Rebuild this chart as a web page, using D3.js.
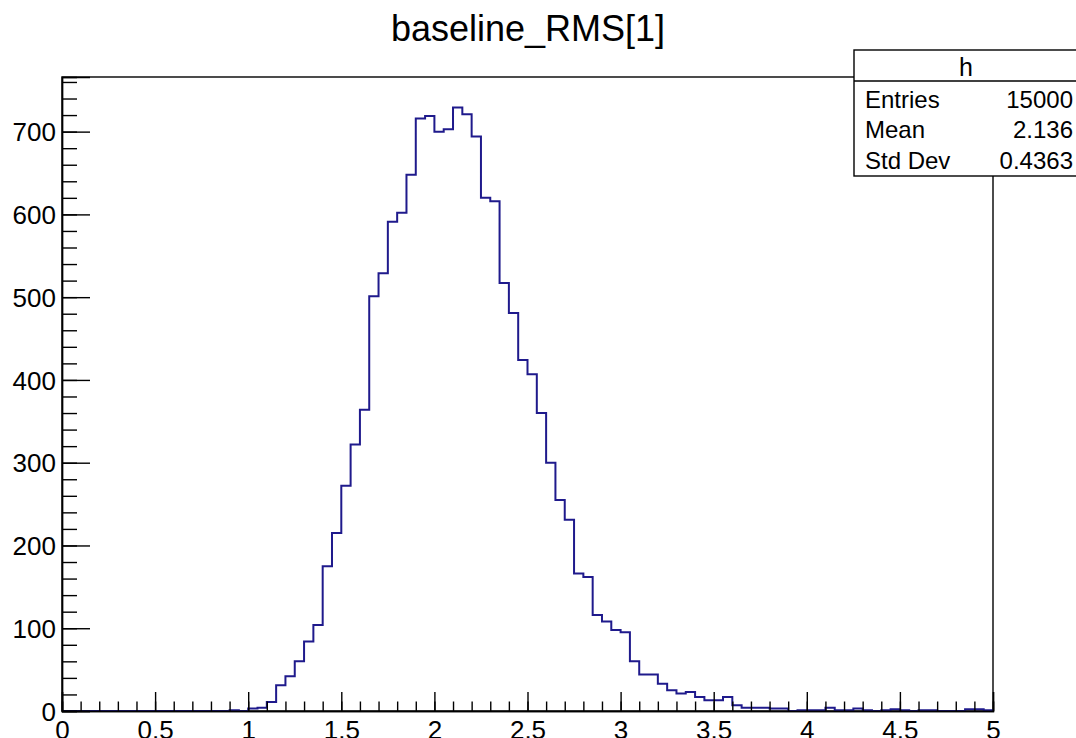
<!DOCTYPE html>
<html>
<head>
<meta charset="utf-8">
<script src="https://cdn.jsdelivr.net/npm/d3@7/dist/d3.min.js"></script>
<style>
  html, body { margin: 0; padding: 0; background: #fff; }
  svg { display: block; }
  text { font-family: "Liberation Sans", Arial, Helvetica, sans-serif; fill: #000; }
</style>
</head>
<body>
<svg id="chart" width="1076" height="738"></svg>
<script>
// ---- data ----
const title = "baseline_RMS[1]";
const binLow = 0, binHigh = 5, binWidth = 0.05;
const counts = [
  0,0,0,0,0,0,0,0,0,0,          // 0.00-0.50
  0,0,0,0,0,0,0,0,1,0,          // 0.50-1.00
  3,4,11,31,42,60,84,104,175,215, // 1.00-1.50
  272,322,364,501,529,591,602,648,716,719, // 1.50-2.00
  700,703,729,721,694,620,616,517,481,424, // 2.00-2.50
  407,360,300,255,231,166,162,116,108,98,  // 2.50-3.00
  95,60,44,44,33,25,21,23,17,13,           // 3.00-3.50
  13,17,7,4,4,4,3,3,0,1,                   // 3.50-4.00
  1,1,4,1,1,3,1,0,1,2,                     // 4.00-4.50
  1,0,1,1,0,0,0,2,2,1                      // 4.50-5.00
];
const xMajorTicks = [0,0.5,1,1.5,2,2.5,3,3.5,4,4.5,5];
const xTickLabels = ["0","0.5","1","1.5","2","2.5","3","3.5","4","4.5","5"];
const yMajorTicks = [0,100,200,300,400,500,600,700];
const yTickLabels = ["0","100","200","300","400","500","600","700"];
const yMax = 766;
const statsName = "h";
const statsLabels = ["Entries","Mean","Std Dev"];
const statsValues = ["15000","2.136","0.4363"];

// ---- layout ----
const frame = {left: 62, top: 77, right: 993, bottom: 711};
const svg = d3.select("#chart");

const x = d3.scaleLinear().domain([binLow, binHigh]).range([frame.left, frame.right]);
const y = d3.scaleLinear().domain([0, yMax]).range([frame.bottom, frame.top]);

// title
svg.append("text")
  .attr("x", 528).attr("y", 41)
  .attr("text-anchor", "middle")
  .style("font-size", "36px")
  .text(title);

// frame
svg.append("rect")
  .attr("x", frame.left).attr("y", frame.top)
  .attr("width", frame.right - frame.left).attr("height", frame.bottom - frame.top)
  .attr("fill", "none").attr("stroke", "#000").attr("stroke-width", 1.4);

// histogram outline
const pts = [];
pts.push([x(binLow), y(0)]);
counts.forEach((c, i) => {
  const x0 = x(binLow + i * binWidth), x1 = x(binLow + (i + 1) * binWidth);
  pts.push([x0, y(c)]);
  pts.push([x1, y(c)]);
});
pts.push([x(binHigh), y(0)]);
svg.append("path")
  .attr("d", d3.line()(pts))
  .attr("fill", "none")
  .attr("stroke", "#1f1a8c")
  .attr("stroke-width", 2);

// x axis (ROOT style ticks pointing up)
const xMinor = d3.range(0, 51).map(i => i * 0.1);
const xAxisMinor = d3.axisBottom(x).tickValues(xMinor).tickSize(-9.5).tickFormat("");
const xAxisMajor = d3.axisBottom(x).tickValues(xMajorTicks).tickSize(-19)
  .tickFormat((d, i) => xTickLabels[i]);
const gxm = svg.append("g").attr("transform", `translate(0,${frame.bottom})`).call(xAxisMinor);
const gx = svg.append("g").attr("transform", `translate(0,${frame.bottom})`).call(xAxisMajor);
[gxm, gx].forEach(g => { g.select(".domain").attr("stroke", "#000").attr("stroke-width", 1.4); g.selectAll("line").attr("stroke", "#000").attr("stroke-width", 1.4); });
gx.selectAll("text")
  .attr("y", 10).attr("dy", "0.71em")
  .style("font-size", "26px").style("font-family", "'Liberation Sans', Arial, sans-serif").attr("fill", "#000");

// y axis
const yMinor = d3.range(0, 39).map(i => i * 20).filter(v => v <= yMax);
const yAxisMinor = d3.axisLeft(y).tickValues(yMinor).tickSize(-15).tickFormat("");
const yAxisMajor = d3.axisLeft(y).tickValues(yMajorTicks).tickSize(-28)
  .tickFormat((d, i) => yTickLabels[i]);
const gym = svg.append("g").attr("transform", `translate(${frame.left},0)`).call(yAxisMinor);
const gy = svg.append("g").attr("transform", `translate(${frame.left},0)`).call(yAxisMajor);
[gym, gy].forEach(g => { g.select(".domain").attr("stroke", "#000").attr("stroke-width", 1.4); g.selectAll("line").attr("stroke", "#000").attr("stroke-width", 1.4); });
gy.selectAll("text")
  .attr("x", -6).attr("dy", "0.35em")
  .style("font-size", "26px").style("font-family", "'Liberation Sans', Arial, sans-serif").attr("fill", "#000");

// stats box
const sb = {left: 854, top: 50, right: 1092, bottom: 176, header: 81};
svg.append("rect")
  .attr("x", sb.left).attr("y", sb.top)
  .attr("width", sb.right - sb.left).attr("height", sb.bottom - sb.top)
  .attr("fill", "#fff").attr("stroke", "#000").attr("stroke-width", 1.4);
svg.append("line")
  .attr("x1", sb.left).attr("x2", sb.right)
  .attr("y1", sb.header).attr("y2", sb.header)
  .attr("stroke", "#000").attr("stroke-width", 1.4);
svg.append("text")
  .attr("x", 966).attr("y", 76)
  .attr("text-anchor", "middle")
  .style("font-size", "25px")
  .text(statsName);
const rowY = [108, 138, 169];
statsLabels.forEach((lab, i) => {
  svg.append("text").attr("x", 865).attr("y", rowY[i])
    .style("font-size", "24px").text(lab);
  svg.append("text").attr("x", 1073).attr("y", rowY[i])
    .attr("text-anchor", "end")
    .style("font-size", "24px").text(statsValues[i]);
});
</script>
</body>
</html>
